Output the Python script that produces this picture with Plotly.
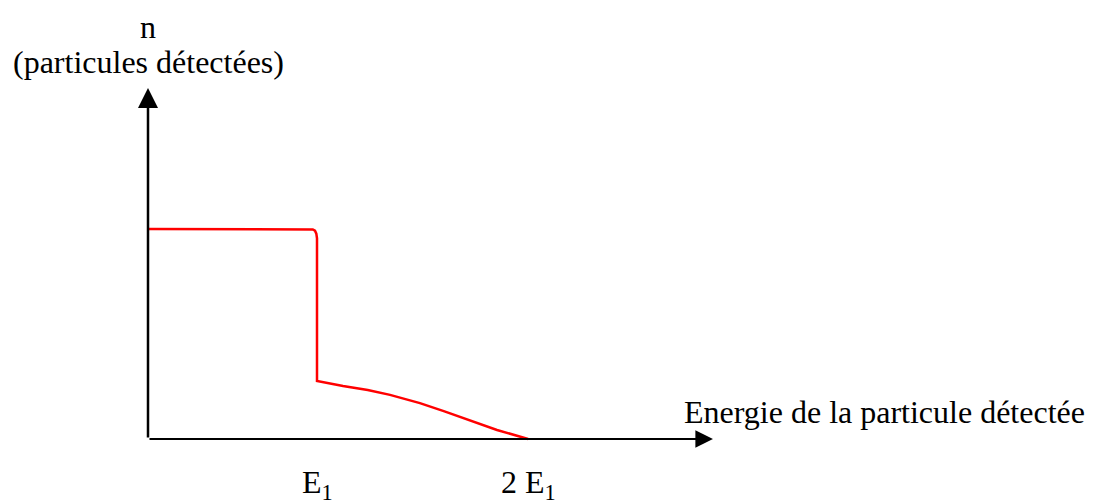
import plotly.graph_objects as go

# Curve data (energy in units of E1 as drawn, n in arbitrary units)
energy = [0.0, 0.955, 0.975, 0.988, 0.996, 1.0, 1.0, 1.154, 1.30, 1.432, 1.609, 1.75, 1.846, 2.065, 2.249]
count = [1.0, 1.0, 0.998, 0.992, 0.978, 0.955, 0.276, 0.252, 0.233, 0.210, 0.171, 0.133, 0.105, 0.043, 0.0]

tick_positions = [1.0, 2.249]
tick_labels = ["E<sub>1</sub>", "2 E<sub>1</sub>"]

x_axis_end = 3.343
y_axis_end = 1.671

FONT = "Liberation Serif, Times New Roman, serif"
FS = 32

fig = go.Figure()
fig.add_trace(go.Scatter(x=energy, y=count, mode="lines",
                         line=dict(color="#ff0000", width=2.5),
                         hoverinfo="skip", showlegend=False))

# axes with arrows
fig.add_annotation(x=x_axis_end, y=0, ax=0, ay=0, xref="x", yref="y", axref="x", ayref="y",
                   text="", showarrow=True, arrowhead=2, arrowsize=1.6, arrowwidth=2.2, arrowcolor="black")
fig.add_annotation(x=0, y=y_axis_end, ax=0, ay=0, xref="x", yref="y", axref="x", ayref="y",
                   text="", showarrow=True, arrowhead=2, arrowsize=1.6, arrowwidth=2.5, arrowcolor="black")

# tick labels
for xv, lab in zip(tick_positions, tick_labels):
    fig.add_annotation(x=xv, y=-0.215, xref="x", yref="y", text=lab, showarrow=False, borderpad=0,
                       font=dict(family=FONT, size=FS, color="black"), xanchor="center", yanchor="middle")

fig.add_annotation(x=0, y=1.962, xref="x", yref="y", text="n", showarrow=False, borderpad=0,
                   font=dict(family=FONT, size=FS, color="black"), xanchor="center", yanchor="middle")
fig.add_annotation(x=0, y=1.795, xref="x", yref="y", text="(particules détectées)", showarrow=False,
                   borderpad=0,
                   font=dict(family=FONT, size=FS, color="black"), xanchor="center", yanchor="middle")
fig.add_annotation(x=3.165, y=0.129, xref="x", yref="y", text="Energie de la particule détectée",
                   showarrow=False, borderpad=0, font=dict(family=FONT, size=FS, color="black"),
                   xanchor="left", yanchor="middle")

W, H = 1089, 496          # page body has an 8px margin
ox, oy = 140, 431         # origin position inside the figure, in pixels
px_per_x = 169.0
px_per_y = 210.0
fig.update_layout(
    width=W, height=H,
    margin=dict(l=0, r=0, t=0, b=0),
    paper_bgcolor="white", plot_bgcolor="white",
    xaxis=dict(visible=False, range=[-ox / px_per_x, (W - ox) / px_per_x], fixedrange=True),
    yaxis=dict(visible=False, range=[(oy - H) / px_per_y, oy / px_per_y], fixedrange=True),
)

fig.write_html("out.html")
